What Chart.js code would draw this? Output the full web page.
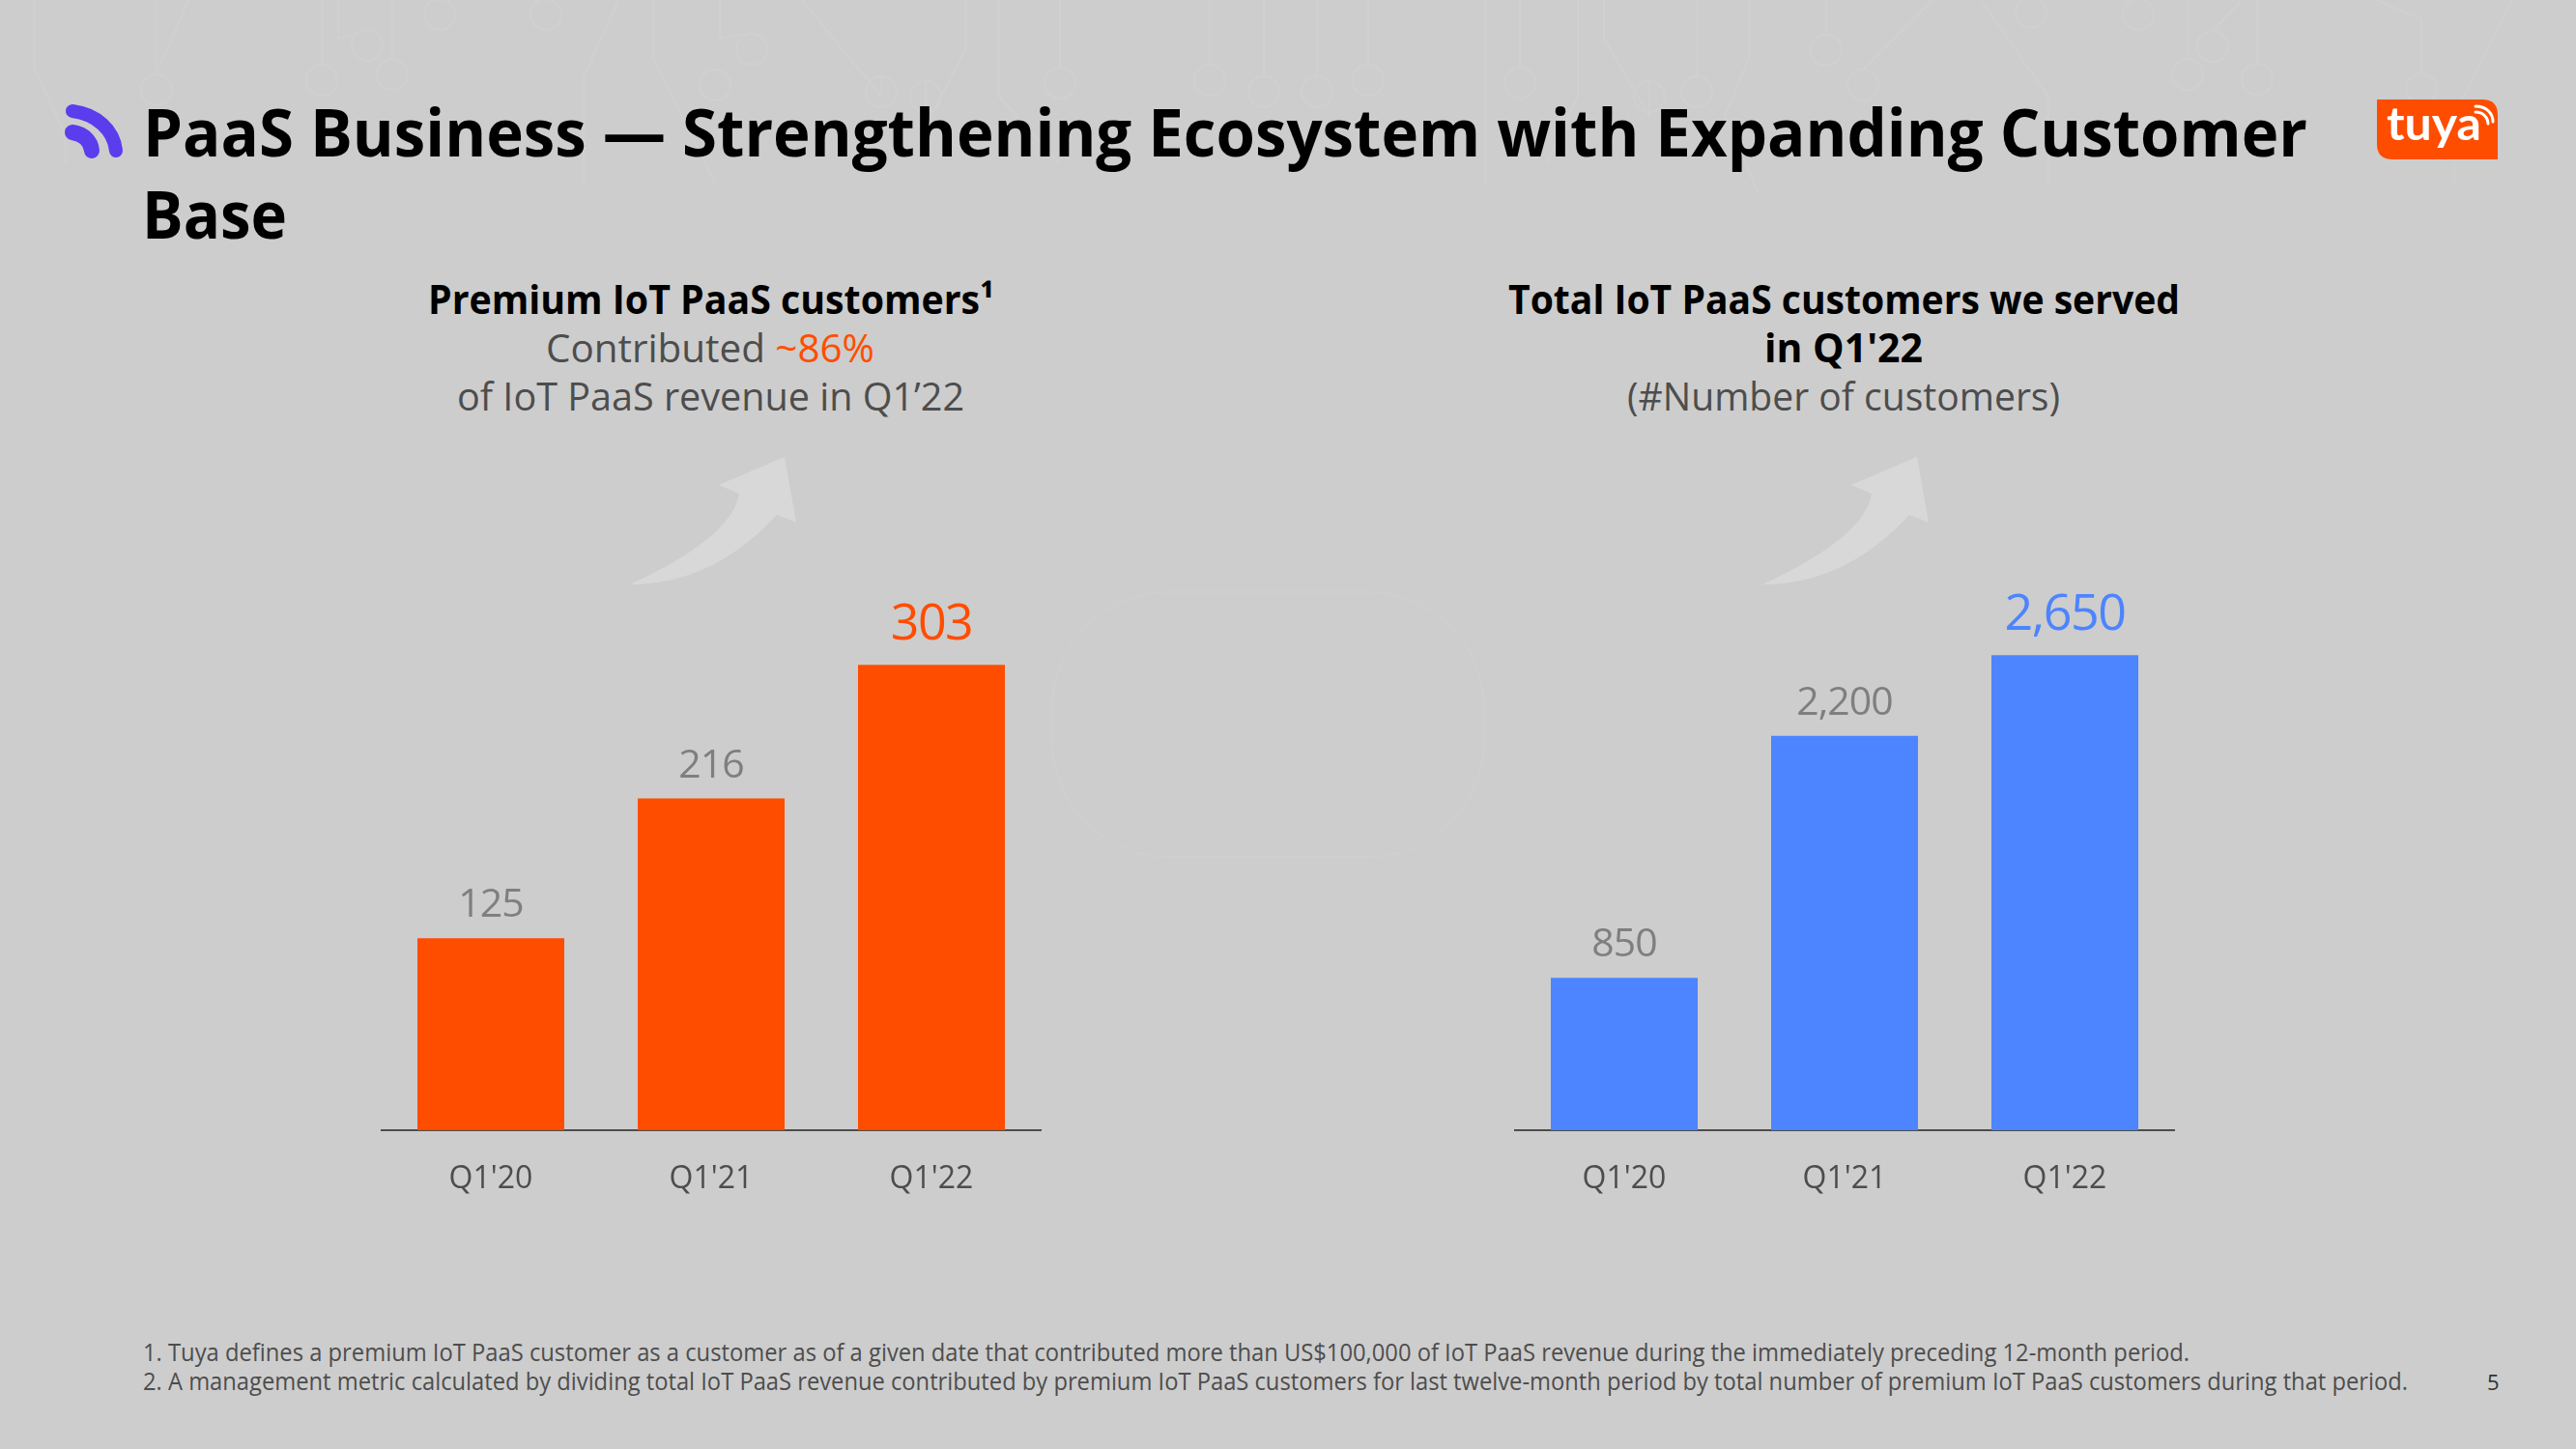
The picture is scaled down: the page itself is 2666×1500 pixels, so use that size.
<!DOCTYPE html>
<html>
<head>
<meta charset="utf-8">
<title>PaaS Business</title>
<script src="https://cdn.jsdelivr.net/npm/chart.js@4"></script>
<style>
html, body { margin: 0; padding: 0; background: #cdcdcd; }
#page { position: relative; width: 2666px; height: 1500px; overflow: hidden; background: #cdcdcd; font-family: "Open Sans", sans-serif; }
#page svg { position: absolute; left: 0; top: 0; }
#premiumBox, #totalBox { position: absolute; }
#premiumBox { left: 394px; top: 534px; width: 684px; height: 726px; }
#totalBox { left: 1567px; top: 502px; width: 684px; height: 758px; }
.title { font-size: 68px; font-weight: 700; fill: #000; }
.sub { font-size: 41px; font-weight: 700; fill: #000; }
.note { font-size: 41px; fill: #4d4d4d; }
.foot { font-size: 25px; fill: #4d4d4d; }
</style>
</head>
<body>
<div id="page">
<svg width="2666" height="1500" viewBox="0 0 2666 1500">
  <!-- faint circuit pattern along the top -->
  <g fill="none" stroke="#d0d0d0" stroke-width="2">
    <path d="M35 0V70L68 140V170M162 0V76M195 0L162 76M333 0V66M350 0V40L380 30M406 0V60M455 0V2M565 0V2M640 0L604 80V190M676 0V60L740 190M745 0V40L778 34M830 0L912 100V80M958 84V130L1000 50V0M1034 0V100L1097 170M1097 0V70M1252 0V66M1308 0V78"/>
    <path d="M1363 0V78M1416 0V66M1537 0V190M1573 0V70M1633 0V100L1600 170M1660 0V40L1707 120V84M1756 0V78M1810 0V60L1785 120L1820 200M1890 0V36M1928 72L2000 0M2050 0L2120 100V190M2264 0V60M2290 32L2320 0M2336 0V66M2506 76V20L2460 0M2600 0L2540 120V190"/>
    <circle cx="162" cy="93" r="16"/><circle cx="333" cy="83" r="16"/><circle cx="380" cy="47" r="16"/><circle cx="406" cy="77" r="16"/><circle cx="455" cy="15" r="16"/><circle cx="565" cy="15" r="16"/><circle cx="778" cy="51" r="16"/><circle cx="740" cy="88" r="16"/><circle cx="912" cy="95" r="16"/><circle cx="958" cy="100" r="16"/><circle cx="1097" cy="86" r="16"/><circle cx="1252" cy="83" r="16"/><circle cx="1308" cy="95" r="16"/>
    <circle cx="1363" cy="95" r="16"/><circle cx="1416" cy="83" r="16"/><circle cx="1573" cy="86" r="16"/><circle cx="1707" cy="100" r="16"/><circle cx="1756" cy="95" r="16"/><circle cx="1890" cy="52" r="16"/><circle cx="1928" cy="88" r="16"/><circle cx="2102" cy="13" r="16"/><circle cx="2213" cy="15" r="16"/><circle cx="2264" cy="77" r="16"/><circle cx="2290" cy="48" r="16"/><circle cx="2336" cy="82" r="16"/><circle cx="2506" cy="92" r="16"/>
  </g>
  <rect x="1089" y="613" width="447" height="274" rx="120" fill="none" stroke="#cfcfcf" stroke-width="2"/>

  <!-- growth arrows -->
  <path id="growArrow" d="M652 605Q758 556 765 511L744 502L812 473L824 541L804 533Q738 605 652 605Z" fill="#d8d8d8"/>
  <use href="#growArrow" x="1172" y="0"/>

  <!-- title icon -->
  <g fill="none" stroke="#5b3ded" stroke-linecap="round">
    <path d="M75 115C100 118 118 135 120 156" stroke-width="14"/>
    <path d="M75 137C87 139 94 146 95 156" stroke-width="16"/>
  </g>

  <!-- logo -->
  <path d="M2460 103H2569Q2585 103 2585 119V165H2476Q2460 165 2460 149Z" fill="#ff4d00"/>
  <text x="2470" y="145" font-family="Lato" font-weight="700" font-size="48" fill="#fff" textLength="98" lengthAdjust="spacingAndGlyphs">tuya</text>
  <g fill="none" stroke="#fff" stroke-width="3" stroke-linecap="round">
    <path d="M2562 116C2570 116 2575 122 2575 128"/>
    <path d="M2562 110C2574 110 2580 118 2580 126"/>
  </g>

  <text class="title" x="148" y="162" textLength="2240" lengthAdjust="spacingAndGlyphs">PaaS Business — Strengthening Ecosystem with Expanding Customer</text>
  <text class="title" x="147" y="247" textLength="150" lengthAdjust="spacingAndGlyphs">Base</text>

  <text class="sub" x="443" y="325" textLength="586" lengthAdjust="spacingAndGlyphs">Premium IoT PaaS customers¹</text>
  <text class="note" x="565" y="375" textLength="340" lengthAdjust="spacingAndGlyphs">Contributed <tspan fill="#ff4d00">~86%</tspan></text>
  <text class="note" x="473" y="425" textLength="525" lengthAdjust="spacingAndGlyphs">of IoT PaaS revenue in Q1’22</text>

  <text class="sub" x="1561" y="325" textLength="695" lengthAdjust="spacingAndGlyphs">Total IoT PaaS customers we served</text>
  <text class="sub" x="1826" y="375" textLength="164" lengthAdjust="spacingAndGlyphs">in Q1'22</text>
  <text class="note" x="1684" y="425" textLength="448" lengthAdjust="spacingAndGlyphs">(#Number of customers)</text>

  <text class="foot" x="148" y="1409" textLength="2118" lengthAdjust="spacingAndGlyphs">1. Tuya defines a premium IoT PaaS customer as a customer as of a given date that contributed more than US$100,000 of IoT PaaS revenue during the immediately preceding 12-month period.</text>
  <text class="foot" x="148" y="1439" textLength="2344" lengthAdjust="spacingAndGlyphs">2. A management metric calculated by dividing total IoT PaaS revenue contributed by premium IoT PaaS customers for last twelve-month period by total number of premium IoT PaaS customers during that period.</text>
  <text x="2574" y="1439" font-size="22" fill="#333">5</text>
</svg>
<div id="premiumBox"><canvas id="premiumChart"></canvas></div>
<div id="totalBox"><canvas id="totalChart"></canvas></div>
</div>

<script>
const quarters = ["Q1'20", "Q1'21", "Q1'22"];
const premiumCustomers = [125, 216, 303];
const totalCustomers = [850, 2200, 2650];

// value above each bar, the latest quarter is bigger and in the bar colour
const valueLabels = {
    id: 'valueLabels',
    afterDatasetsDraw(chart) {
        const ctx = chart.ctx;
        const meta = chart.getDatasetMeta(0);
        const data = chart.data.datasets[0].data;
        ctx.save();
        ctx.textAlign = 'center';
        ctx.textBaseline = 'alphabetic';
        meta.data.forEach((bar, i) => {
            const last = i === data.length - 1;
            ctx.font = (last ? '52px' : '41px') + ' "Open Sans"';
            ctx.letterSpacing = last ? '-1.5px' : '-1px';
            ctx.fillStyle = last ? chart.data.datasets[0].backgroundColor : '#7f7f7f';
            ctx.fillText(data[i].toLocaleString('en-US'), bar.x, bar.y - (last ? 26 : 22));
        });
        ctx.restore();
    }
};

function makeChart(id, values, color, yMax) {
    return new Chart(document.getElementById(id).getContext('2d'), {
        type: 'bar',
        data: {
            labels: quarters,
            datasets: [{
                data: values,
                backgroundColor: color,
                categoryPercentage: 1,
                barPercentage: 2 / 3
            }]
        },
        options: {
            responsive: true,
            maintainAspectRatio: false,
            animation: false,
            devicePixelRatio: 1,
            layout: { padding: 0 },
            plugins: {
                legend: { display: false },
                title: { display: false },
                tooltip: { enabled: false }
            },
            scales: {
                x: {
                    grid: { display: false },
                    border: { display: true, color: '#4d4d4d', width: 2 },
                    ticks: {
                        color: '#4d4d4d',
                        font: { family: '"Open Sans"', size: 32 },
                        padding: 24,
                        maxRotation: 0
                    },
                    afterFit: scale => { scale.height = 90; }
                },
                y: { display: false, min: 0, max: yMax }
            }
        },
        plugins: [valueLabels]
    });
}

makeChart('premiumChart', premiumCustomers, '#ff4d00', 400);
makeChart('totalChart', totalCustomers, '#4d84ff', 3600);
</script>
</body>
</html>
